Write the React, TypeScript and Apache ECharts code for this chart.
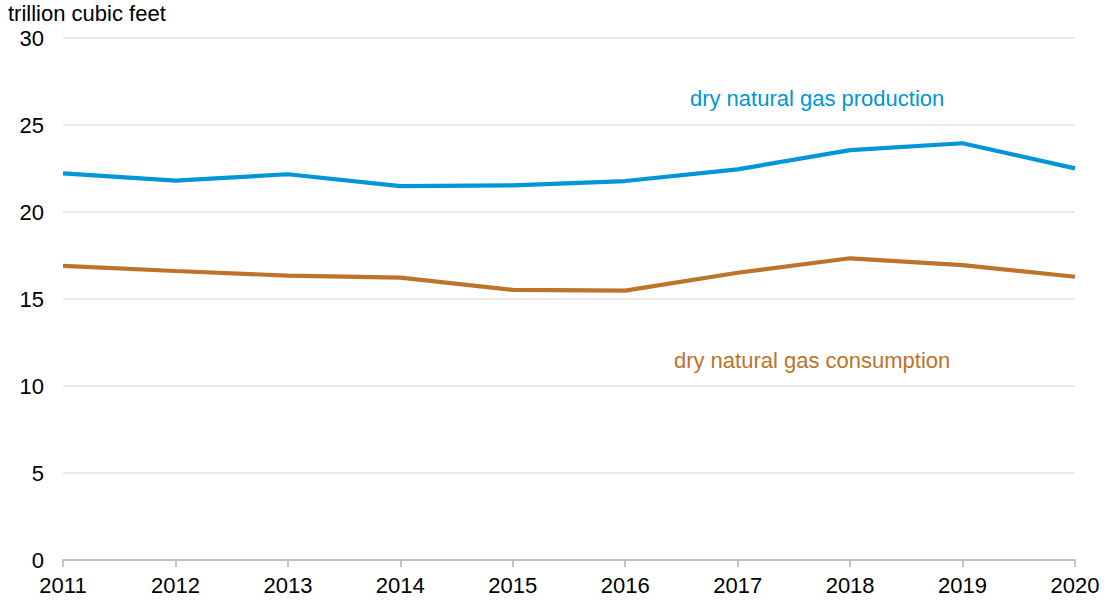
import React, { useEffect, useRef } from "react";
import * as echarts from "echarts";

const years = ["2011", "2012", "2013", "2014", "2015", "2016", "2017", "2018", "2019", "2020"];
const production = [22.22, 21.8, 22.17, 21.49, 21.53, 21.78, 22.45, 23.56, 23.95, 22.51];
const consumption = [16.9, 16.61, 16.34, 16.23, 15.52, 15.48, 16.51, 17.34, 16.95, 16.28];
const unitLabel = "trillion cubic feet";
const productionLabel = "dry natural gas production";
const consumptionLabel = "dry natural gas consumption";

const FONT = "'Liberation Sans', Arial, sans-serif";
const FS = 22;
const BLUE = "#0096d7";
const BROWN = "#bd732a";

export default function App() {
  const ref = useRef<HTMLDivElement>(null);
  useEffect(() => {
    if (!ref.current) return;
    const chart = echarts.init(ref.current, null, { renderer: "svg" });
    chart.setOption({
      animation: false,
      backgroundColor: "#ffffff",
      grid: { left: 63, right: 32, top: 38, bottom: 41, containLabel: false },
      xAxis: {
        type: "category",
        data: years,
        boundaryGap: false,
        axisLine: { lineStyle: { color: "#b3b3b3", width: 1.5 } },
        axisTick: { show: true, length: 7, lineStyle: { color: "#b3b3b3", width: 1.5 } },
        axisLabel: { color: "#000", fontSize: FS, fontFamily: FONT, margin: 14 },
        splitLine: { show: false },
      },
      yAxis: {
        type: "value",
        min: 0,
        max: 30,
        interval: 5,
        axisLine: { show: false },
        axisTick: { show: false },
        axisLabel: { color: "#000", fontSize: FS, fontFamily: FONT, margin: 19, lineHeight: 20 },
        splitLine: { lineStyle: { color: "#e3e3e3", width: 1.5 } },
      },
      graphic: [
        {
          type: "text",
          left: 8,
          top: 2,
          style: { text: unitLabel, fill: "#000", font: `${FS}px ${FONT}`, lineHeight: 20 },
        },
      ],
      series: [
        {
          type: "line",
          name: productionLabel,
          data: production,
          symbol: "none",
          lineStyle: { color: BLUE, width: 4.2 },
          markPoint: {
            symbol: "circle",
            symbolSize: 0,
            data: [
              {
                coord: ["2018", 26.5],
                label: {
                  show: true,
                  formatter: productionLabel,
                  color: BLUE,
                  fontSize: FS,
                  fontFamily: FONT,
                  position: "inside",
                  offset: [-33, 0],
                },
              },
            ],
          },
        },
        {
          type: "line",
          name: consumptionLabel,
          data: consumption,
          symbol: "none",
          lineStyle: { color: BROWN, width: 4.2 },
          markPoint: {
            symbol: "circle",
            symbolSize: 0,
            data: [
              {
                coord: ["2018", 11.44],
                label: {
                  show: true,
                  formatter: consumptionLabel,
                  color: BROWN,
                  fontSize: FS,
                  fontFamily: FONT,
                  position: "inside",
                  offset: [-38, 0],
                },
              },
            ],
          },
        },
      ],
    });
    return () => chart.dispose();
  }, []);
  return <div ref={ref} style={{ width: 1107, height: 601, position: "absolute", left: 0, top: 0 }} />;
}
